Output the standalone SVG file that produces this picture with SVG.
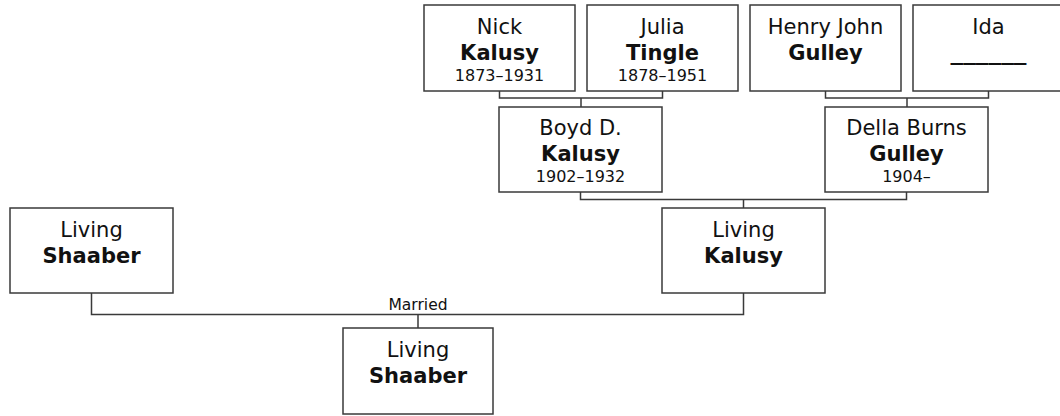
<svg xmlns="http://www.w3.org/2000/svg" width="1060" height="416" viewBox="0 0 1060 416">
<style>
.box{fill:#fff;stroke:#3a3a3a;stroke-width:1.5}
.con{fill:none;stroke:#3a3a3a;stroke-width:1.5}
text{font-family:"DejaVu Sans",Verdana,sans-serif;fill:#111;text-anchor:middle}
.n{font-size:21px}
.s{font-size:21px;font-weight:bold}
.d{font-size:16px}
.m{font-size:15.5px}
</style>
<rect width="1060" height="416" fill="#fff"/>
<g id="connectors">
<path class="con" d="M499.5,91 V98 H662.5 V91 M581,98 V107"/>
<path class="con" d="M825.5,91 V98 H988.5 V91 M907,98 V107"/>
<path class="con" d="M580.5,192 V199.5 H906.5 V192 M743.5,199.5 V208"/>
<path class="con" d="M91.5,293 V314.5 H743.5 V293 M418,314.5 V328"/>
<text class="m" x="418" y="310">Married</text>
</g>
<g id="nick">
<rect class="box" x="424" y="5" width="151" height="86"/>
<text class="n" x="499.5" y="34">Nick</text>
<text class="s" x="499.5" y="60">Kalusy</text>
<text class="d" x="499.5" y="81">1873–1931</text>
</g>
<g id="julia">
<rect class="box" x="587" y="5" width="151" height="86"/>
<text class="n" x="662.5" y="34">Julia</text>
<text class="s" x="662.5" y="60">Tingle</text>
<text class="d" x="662.5" y="81">1878–1951</text>
</g>
<g id="henry">
<rect class="box" x="750" y="5" width="151" height="86"/>
<text class="n" x="825.5" y="34">Henry John</text>
<text class="s" x="825.5" y="60">Gulley</text>
</g>
<g id="ida">
<rect class="box" x="913" y="5" width="151" height="86"/>
<text class="n" x="988.5" y="34">Ida</text>
<text class="s" x="988.5" y="60" textLength="76" lengthAdjust="spacingAndGlyphs">______</text>
</g>
<g id="boyd">
<rect class="box" x="499" y="107" width="163" height="85"/>
<text class="n" x="580.5" y="135">Boyd D.</text>
<text class="s" x="580.5" y="161">Kalusy</text>
<text class="d" x="580.5" y="182">1902–1932</text>
</g>
<g id="della">
<rect class="box" x="825" y="107" width="163" height="85"/>
<text class="n" x="906.5" y="135">Della Burns</text>
<text class="s" x="906.5" y="161">Gulley</text>
<text class="d" x="906.5" y="182">1904–</text>
</g>
<g id="living-shaaber-parent">
<rect class="box" x="10" y="208" width="163" height="85"/>
<text class="n" x="91.5" y="237">Living</text>
<text class="s" x="91.5" y="263">Shaaber</text>
</g>
<g id="living-kalusy">
<rect class="box" x="662" y="208" width="163" height="85"/>
<text class="n" x="743.5" y="237">Living</text>
<text class="s" x="743.5" y="263">Kalusy</text>
</g>
<g id="living-shaaber-child">
<rect class="box" x="343" y="328" width="150" height="86"/>
<text class="n" x="418" y="357">Living</text>
<text class="s" x="418" y="383">Shaaber</text>
</g>
</svg>
